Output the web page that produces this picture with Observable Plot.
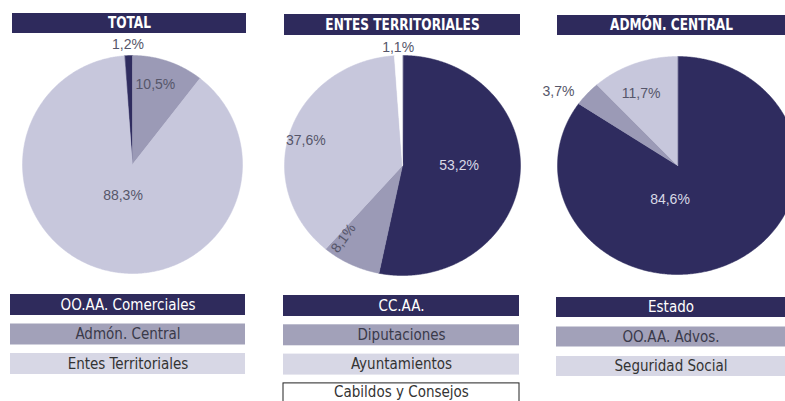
<!DOCTYPE html>
<html>
<head>
<meta charset="utf-8">
<script src="https://cdn.jsdelivr.net/npm/d3@7"></script>
<script src="https://cdn.jsdelivr.net/npm/@observablehq/plot@0.6"></script>
<style>
  html, body { margin: 0; padding: 0; background: #fff; }
  #chart svg { display: block; }
</style>
</head>
<body>
<div id="chart"></div>
<script>
// ---- data ----
const panelTitles = ["TOTAL", "ENTES TERRITORIALES", "ADMÓN. CENTRAL"];

const totalCats = ["OO.AA. Comerciales", "Admón. Central", "Entes Territoriales"];
const totalValues = [1.2, 10.5, 88.3];

const entesCats = ["CC.AA.", "Diputaciones", "Ayuntamientos", "Cabildos y Consejos"];
const entesValues = [53.2, 8.1, 37.6, 1.1];

const centralCats = ["Estado", "OO.AA. Advos.", "Seguridad Social"];
const centralValues = [84.6, 3.7, 11.7];

// ---- styles ----
const pieColors = ["#2f2c5f", "#9b9ab6", "#c7c7dc", "#ffffff"];
const legendFill = ["#2f2b5c", "#a2a1b9", "#d7d7e5", "#ffffff"];
const legendText = ["#ffffff", "#3a3a4a", "#333333", "#333333"];
const labelFillDark = "#d9d9e6";
const labelFillLight = "#56566a";
const condensed = "'Liberation Sans Narrow', 'DejaVu Sans Condensed', 'Arial Narrow', sans-serif";

// ---- layout ----
const W = 785, H = 401;
const panels = [
  {title: panelTitles[0], cats: totalCats, values: totalValues, cx: 132, cy: 164, rx: 110, ry: 109, startDeg: -4.3,
   bar: [12, 246, 13, 33], legendX: [10, 245], legendTop: 294, pitch: 29.5, rowH: 21,
   labels: [{r: 1.1, da: 0}, {r: 0.76, da: -3}, {r: 0.3, da: 0}]},
  {title: panelTitles[1], cats: entesCats, values: entesValues, cx: 402, cy: 165, rx: 118, ry: 110, startDeg: 0,
   bar: [284, 520, 14, 35], legendX: [283, 519], legendTop: 295, pitch: 29.3, rowH: 21,
   labels: [{r: 0.48, da: -6}, {r: 0.83, da: 11, rotate: -54}, {r: 0.85, da: -3}, {r: 1.07, da: 0}]},
  {title: panelTitles[2], cats: centralCats, values: centralValues, cx: 677, cy: 165, rx: 120, ry: 109, startDeg: 0,
   bar: [557, 790, 15, 35], legendX: [556, 790], legendTop: 297, pitch: 29.5, rowH: 20,
   labels: [{r: 0.32, da: 39}, {r: 1.2, da: -7}, {r: 0.73, da: -3.5}]}
];

const fmt = v => v.toFixed(1).replace(".", ",") + "%";
const rad = Math.PI / 180;

const slicePts = [], labelRows = [], barRows = [], legendRows = [];
panels.forEach((p, pi) => {
  const rows = p.cats.map((c, i) => ({cat: c, value: p.values[i], i}));
  const pie = d3.pie().sort(null).value(d => d.value)
    .startAngle(p.startDeg * rad).endAngle(p.startDeg * rad + 2 * Math.PI);
  pie(rows).forEach(a => {
    const key = pi + "-" + a.data.i;
    const color = pieColors[a.data.i];
    slicePts.push({key, color, x: p.cx, y: p.cy});
    const n = Math.max(2, Math.ceil((a.endAngle - a.startAngle) / (0.5 * rad)));
    for (let k = 0; k <= n; k++) {
      const t = a.startAngle + (a.endAngle - a.startAngle) * k / n;
      slicePts.push({key, color, x: p.cx + p.rx * Math.sin(t), y: p.cy - p.ry * Math.cos(t)});
    }
    const L = p.labels[a.data.i];
    const mid = (a.startAngle + a.endAngle) / 2 + L.da * rad;
    labelRows.push({
      x: p.cx + p.rx * L.r * Math.sin(mid),
      y: p.cy - p.ry * L.r * Math.cos(mid),
      text: fmt(a.data.value),
      fill: (a.data.i === 0 && L.r < 1) ? labelFillDark : labelFillLight,
      rotate: L.rotate || 0
    });
  });
  barRows.push({x1: p.bar[0], x2: p.bar[1], y1: p.bar[2], y2: p.bar[3], title: p.title});
  p.cats.forEach((c, i) => {
    const y1 = p.legendTop + i * p.pitch;
    const visible = Math.min(p.rowH, H - 1 - y1);
    legendRows.push({x1: p.legendX[0], x2: p.legendX[1], y1, y2: y1 + p.rowH, ty: y1 + visible / 2,
      fill: legendFill[i], text: legendText[i], label: c, stroke: i === 3 ? "#222" : "none"});
  });
});

const chart = Plot.plot({
  width: W, height: H, margin: 0,
  x: {domain: [0, W], range: [0, W], axis: null},
  y: {domain: [0, H], range: [0, H], axis: null},
  color: {type: "identity"},
  style: {fontFamily: "'Liberation Sans', Arial, sans-serif", background: "#fff"},
  marks: [
    Plot.line(slicePts, {x: "x", y: "y", z: "key", fill: "color", stroke: "color", strokeWidth: 0.5, curve: "linear-closed"}),
    Plot.text(labelRows, {x: "x", y: "y", text: "text", fill: "fill", rotate: "rotate", fontSize: 14}),
    Plot.rect(barRows, {x1: "x1", x2: "x2", y1: "y1", y2: "y2", fill: "#2e2a5c"}),
    Plot.text(barRows, {x: d => (d.x1 + Math.min(d.x2, W)) / 2, y: d => (d.y1 + d.y2) / 2, text: "title",
      fill: "#fff", fontSize: 15, fontWeight: "bold", fontFamily: condensed}),
    Plot.rect(legendRows, {x1: "x1", x2: "x2", y1: "y1", y2: "y2", fill: "fill", stroke: "stroke", strokeWidth: 1}),
    Plot.text(legendRows, {x: d => (d.x1 + Math.min(d.x2, W)) / 2, y: "ty", text: "label",
      fill: "text", fontSize: 15, fontFamily: condensed})
  ]
});
// condense the title lettering horizontally, as in the printed original
const textGroups = chart.querySelectorAll('g[aria-label="text"]');
if (textGroups[1]) {
  textGroups[1].querySelectorAll("text").forEach(t => {
    const tr = t.getAttribute("transform") || "";
    t.setAttribute("transform", tr + " scale(0.9,1)");
  });
}
document.getElementById("chart").appendChild(chart);
</script>
</body>
</html>
